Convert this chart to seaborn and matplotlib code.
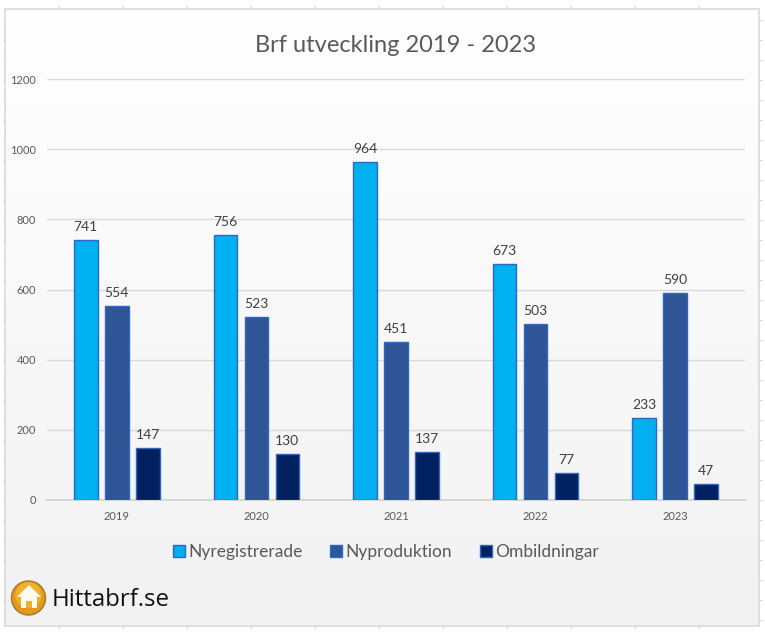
import numpy as np
import pandas as pd
import matplotlib
matplotlib.use("Agg")
import matplotlib.pyplot as plt
from matplotlib.patches import Circle, Polygon, Rectangle
import seaborn as sns

years = ["2019", "2020", "2021", "2022", "2023"]
nyregistrerade = [741, 756, 964, 673, 233]
nyproduktion = [554, 523, 451, 503, 590]
ombildningar = [147, 130, 137, 77, 47]
series_names = ["Nyregistrerade", "Nyproduktion", "Ombildningar"]
colors = ["#00B0F0", "#2F5597", "#002060"]

df = pd.DataFrame({"year": years, series_names[0]: nyregistrerade,
                   series_names[1]: nyproduktion, series_names[2]: ombildningar})
long = df.melt(id_vars="year", var_name="serie", value_name="antal")

sns.set_theme(style="white")
plt.rcParams["font.family"] = ["Lato", "DejaVu Sans"]
W, H = 765, 632
fig = plt.figure(figsize=(W / 100, H / 100), dpi=100, facecolor="white")

# pixel-space background layer
bg = fig.add_axes([0, 0, 1, 1], zorder=0)
bg.set_xlim(0, W); bg.set_ylim(H, 0); bg.axis("off")
grad = np.linspace(1, 0, 256).reshape(-1, 1)
bg.imshow(grad, extent=(5.5, 759.5, 625.5, 8.5),
          cmap=matplotlib.colors.LinearSegmentedColormap.from_list("g", ["#F2F2F2", "#FFFFFF"]),
          aspect="auto", vmin=0, vmax=1, zorder=0)
bg.set_xlim(0, W); bg.set_ylim(H, 0)
bg.add_patch(Rectangle((5.5, 8.5), 754, 617, fill=False, ec="#D9D9D9", lw=1.2, zorder=1))
for x in range(59, 760, 64):
    bg.plot([x + .5, x + .5], [6, 8], color="#D9D9D9", lw=0.8, zorder=1)
    bg.plot([x + .5, x + .5], [626, 628], color="#D9D9D9", lw=0.8, zorder=1)
for y in range(19, 625, 20):
    bg.plot([3, 5], [y + .5, y + .5], color="#D9D9D9", lw=0.8, zorder=1)
    bg.plot([760, 762], [y + .5, y + .5], color="#D9D9D9", lw=0.8, zorder=1)

# logo
bg.add_patch(Circle((28.5, 598), 17, fc="#E29A1C", ec="#A8742C", lw=1, zorder=2))
bg.add_patch(Circle((28.5, 595), 13, fc="#EFB02A", ec="none", zorder=2))
bg.add_patch(Polygon([(17, 597), (29, 585), (41, 597), (37, 597), (37, 608), (32, 608), (32, 601),
                      (26, 601), (26, 608), (21, 608), (21, 597)], fc="#FFFBEF", ec="none", zorder=3))
bg.text(52, 600, "Hittabrf.se", fontsize=17.3, family="Open Sans", color="#111111", va="center", ha="left", zorder=3)

# chart
ax = fig.add_axes([47 / W, 1 - 500 / H, 698 / W, 421 / H], zorder=1)
ax.patch.set_alpha(0)
sns.barplot(data=long, x="year", y="antal", hue="serie", palette=colors, hue_order=series_names,
            width=0.666, gap=0.24, edgecolor="#2F68BE", linewidth=1.0, saturation=1, ax=ax, zorder=3)
ax.set_xlim(-0.5, 4.5)
ax.set_ylim(0, 1200)
ax.set_yticks(range(0, 1201, 200))
ax.set_xlabel(""); ax.set_ylabel("")
ax.grid(axis="y", color="#D9D9D9", lw=1, zorder=0)
ax.set_axisbelow(True)
for s in ["top", "left", "right"]:
    ax.spines[s].set_visible(False)
ax.spines["bottom"].set_color("#D0D0D0")
ax.spines["bottom"].set_linewidth(1.2)
ax.tick_params(axis="x", length=0, pad=8, labelsize=8, labelcolor="#595959")
ax.tick_params(axis="y", length=0, pad=8, labelsize=8, labelcolor="#595959")
for c in ax.containers:
    ax.bar_label(c, fmt="%d", padding=5, fontsize=10, color="#404040")

handles, labels = ax.get_legend_handles_labels()
fig.legend(handles, labels, loc="center", bbox_to_anchor=(386 / W, 1 - 552 / H), ncol=3, frameon=False,
           fontsize=12.5, labelcolor="#595959", handlelength=0.68, handleheight=0.68, handletextpad=0.2, columnspacing=1.6)
if ax.get_legend():
    ax.get_legend().remove()

fig.text(396 / W, 1 - 45 / H, "Brf utveckling 2019 - 2023", fontsize=17, color="#595959", ha="center", va="center")
fig.savefig("out.png", dpi=100)
